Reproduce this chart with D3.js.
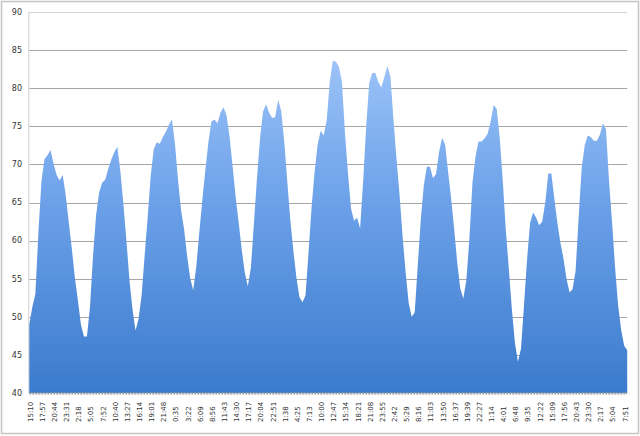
<!DOCTYPE html>
<html>
<head>
<meta charset="utf-8">
<script src="https://cdn.jsdelivr.net/npm/d3@7"></script>
<style>
  html, body { margin: 0; padding: 0; background: #fff; }
  svg { display: block; font-family: "DejaVu Sans", Verdana, sans-serif; }
</style>
</head>
<body>
<div id="chart"></div>
<script>
// tick labels shown on the x axis (one every 4 readings)
const timeLabels = [
  '15:10', '17:57', '20:44', '23:31', '2:18', '5:05', '7:52', '10:40', '13:27', '16:14',
  '19:01', '21:48', '0:35', '3:22', '6:09', '8:56', '11:43', '14:30', '17:17', '20:04',
  '22:51', '1:38', '4:25', '7:13', '10:00', '12:47', '15:34', '18:21', '21:08', '23:55',
  '2:42', '5:29', '8:16', '11:03', '13:50', '16:37', '19:39', '22:27', '1:14', '4:01',
  '6:48', '9:35', '12:22', '15:09', '17:56', '20:43', '23:30', '2:17', '5:04', '7:51'
];

// readings
const readings = [
  49, 51.3, 53, 61, 67.8, 70.7, 71.2, 71.9, 70.1, 68.6,
  67.9, 68.6, 66, 62.4, 59, 55.2, 52.2, 49, 47.4, 47.4,
  51.3, 58, 63.3, 66.3, 67.6, 68, 69.4, 70.6, 71.6, 72.3,
  69.1, 64.8, 60, 54.8, 51, 48.2, 49.7, 52.8, 58, 63,
  68.5, 72, 72.9, 72.7, 73.6, 74.3, 75.2, 75.9, 72.7, 68,
  64, 61.5, 58, 55.1, 53.5, 56.5, 61, 65.3, 69.2, 72.9,
  75.6, 75.9, 75.4, 76.8, 77.5, 76.4, 73.6, 69.7, 65.7, 62.3,
  58.8, 55.8, 54, 56.4, 62.2, 68.1, 73.3, 76.9, 77.9, 76.8,
  76.1, 76.2, 78.5, 77, 73, 67.8, 62.7, 58.7, 55.2, 52.6,
  51.9, 52.8, 58.4, 64.3, 69, 72.6, 74.4, 73.8, 75.8, 80.8,
  83.6, 83.5, 82.8, 80.9, 74.2, 68.8, 64.2, 62.6, 63, 61.6,
  67.8, 75, 80.7, 82, 82, 80.8, 80.1, 81.5, 82.9, 81.5,
  75.8, 70.7, 66, 60.5, 55.8, 51.8, 50, 50.6, 56.8, 62.8,
  67.3, 69.7, 69.7, 68.2, 68.7, 71.6, 73.5, 72.6, 69, 65.5,
  61.5, 57.1, 53.7, 52.4, 54.8, 60.2, 67.5, 71, 73, 73,
  73.4, 74, 75.6, 77.8, 77.3, 73.5, 67.9, 61.4, 56.3, 51,
  46.6, 44.1, 45.8, 51.5, 57.5, 62.3, 63.7, 63, 62, 62.5,
  65, 68.8, 68.8, 65.5, 62.3, 59.7, 57.7, 55, 53.2, 53.6,
  56, 63, 69.5, 72.5, 73.8, 73.6, 73.1, 73.1, 73.9, 75.4,
  74.6, 67.9, 62.5, 56.5, 51.5, 48.3, 46.2, 45.6
];

const yTicks = [40, 45, 50, 55, 60, 65, 70, 75, 80, 85, 90];
const labelEvery = 4;

const width = 640;
const height = 436;
const margin = { top: 12, right: 13, bottom: 43, left: 29 };

const svg = d3.select('#chart')
  .append('svg')
  .attr('width', width)
  .attr('height', height);

// outer frame
svg.append('rect')
  .attr('x', 1.5).attr('y', 1.5)
  .attr('width', width - 3).attr('height', height - 4)
  .attr('fill', '#fff')
  .attr('stroke', '#c4c4c4')
  .attr('stroke-width', 1.5);

const x = d3.scaleLinear()
  .domain([0, readings.length - 1])
  .range([margin.left + 0.3, width - margin.right + 0.2]);

const y = d3.scaleLinear()
  .domain([40, 90])
  .range([height - margin.bottom, margin.top]);

// gridlines
svg.append('g')
  .selectAll('line')
  .data(yTicks.filter(d => d > 40))
  .join('line')
  .attr('x1', x.range()[0])
  .attr('x2', x.range()[1])
  .attr('y1', d => Math.round(y(d)) + 0.5)
  .attr('y2', d => Math.round(y(d)) + 0.5)
  .attr('stroke', d => d === 90 ? '#d2d2d2' : '#a6a6a6')
  .attr('stroke-width', 1);

// left axis line
svg.append('line')
  .attr('x1', x.range()[0] - 0.5).attr('x2', x.range()[0] - 0.5)
  .attr('y1', y(90)).attr('y2', y(40))
  .attr('stroke', '#cfcfcf');

// gradient for the area
const grad = svg.append('defs').append('linearGradient')
  .attr('id', 'fillGrad')
  .attr('gradientUnits', 'userSpaceOnUse')
  .attr('x1', 0).attr('x2', 0)
  .attr('y1', y(88)).attr('y2', y(40));
grad.append('stop').attr('offset', '0%').attr('stop-color', '#a7cbfb');
grad.append('stop').attr('offset', '45%').attr('stop-color', '#6fa3ea');
grad.append('stop').attr('offset', '100%').attr('stop-color', '#3b7bcd');

const area = d3.area()
  .x((d, i) => x(i))
  .y0(y(40))
  .y1(d => y(d));

svg.append('path')
  .datum(readings)
  .attr('d', area)
  .attr('fill', 'url(#fillGrad)');

// dashed baseline
svg.append('line')
  .attr('x1', x.range()[0]).attr('x2', x.range()[1])
  .attr('y1', y(40) + 0.5).attr('y2', y(40) + 0.5)
  .attr('stroke', '#9c9c9c')
  .attr('stroke-width', 2)
  .attr('stroke-dasharray', '2,1');

// y labels
svg.append('g')
  .selectAll('text')
  .data(yTicks)
  .join('text')
  .attr('x', 22)
  .attr('y', d => y(d))
  .attr('dy', '0.35em')
  .attr('text-anchor', 'end')
  .attr('font-size', 8)
  .attr('fill', '#333')
  .text(d => d);

// x labels, rotated
svg.append('g')
  .selectAll('text')
  .data(timeLabels)
  .join('text')
  .attr('transform', (d, i) => `translate(${x(i * labelEvery) + 1},422) rotate(-90)`)
  .attr('dy', '0.35em')
  .attr('text-anchor', 'start')
  .attr('font-size', 7)
  .attr('fill', '#333')
  .text(d => d);
</script>
</body>
</html>
